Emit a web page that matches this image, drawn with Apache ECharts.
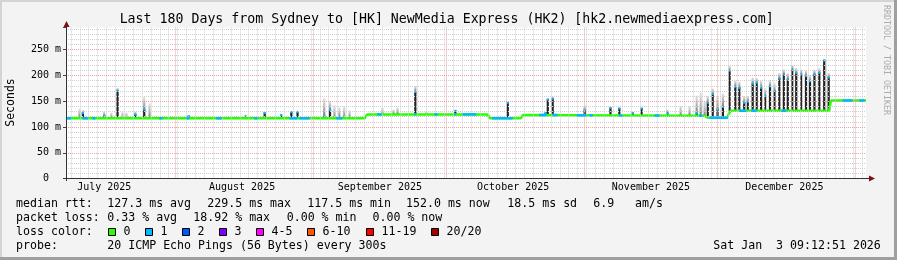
<!DOCTYPE html>
<html><head><meta charset="utf-8">
<script src="https://cdn.jsdelivr.net/npm/echarts@6/dist/echarts.min.js"></script>
<style>html,body{margin:0;padding:0;background:#f3f3f3}#c{width:897px;height:260px}</style>
</head><body><div id="c"></div>
<script>
// ---------------- data (days since Jul 7 2025 09:12:51, values in ms) ----------------
const monthNames = ['July 2025','August 2025','September 2025','October 2025','November 2025','December 2025'];
const monthMid   = [8.616, 39.616, 70.616, 100.616, 131.616, 161.616];
const monthStart = [24.616, 55.616, 85.616, 116.616, 146.616, 177.616];
const yTicks     = [0, 50, 100, 150, 200, 250];

// median rtt line (breakpoints)
const medDays = [0, 67.2, 67.8, 94.8, 95.4, 102.3, 102.9, 125, 143.6, 144.4, 148.7, 149.5, 171.7, 172.1, 180];
const medVals = [117, 117, 124.5, 124.5, 117, 117, 123.5, 122.5, 122, 118, 118, 131.5, 131.5, 151.5, 151.5];

// spans where loss = 1/20 (blue)
const lossOneSpans = [[0.1,1.2],[3.7,5.0],[5.9,6.6],[21.0,21.7],[27.1,27.8],[33.8,35.0],[42.4,43.1],[50.3,52.1],
  [52.5,54.8],[60.8,62.2],[70.0,71.0],[78.4,78.8],[82.9,83.6],[87.4,87.8],[89.2,92.3],[95.9,100.5],[106.5,108.1],
  [109.5,110.6],[114.9,117.1],[117.8,118.5],[124.5,125.2],[132.4,133.5],[142.5,143.2],[144.8,148.8],[151.5,153.1],
  [154.2,155.4],[161.0,162.1],[174.7,177.0],[178.5,179.7]];

// smoke spikes: day, dark top (0 = none), light smoke max (0 = none)
const spikeDays = [3.0,3.8,8.6,10.2,11.6,12.7,13.6,15.6,17.6,18.8,27.6,40.4,44.7,48.4,50.7,52.1,
  58.1,59.4,60.4,61.5,62.6,63.8,71.2,73.7,74.6,78.6,81.1,87.6,99.4,107.9,108.4,109.5,
  116.7,122.5,124.5,127.5,129.5,135.3,138.3,140.3,141.9,142.8,143.7,
  144.4,145.5,146.6,147.8,149.3,150.6,151.5,152.6,153.4,154.5,155.4,156.4,157.3,158.4,159.4,
  160.5,161.5,162.4,163.4,164.3,165.4,166.5,167.4,168.4,169.5,170.6,171.6];
const spikeTops = [0,128,122,0,171,0,0,125,135,0,122,121,128,124,130,130,
  122,134,0,0,0,0,0,0,0,169,0,132,148,128,154,156,
  133,138,137,128,137,128,0,0,128,0,0,
  148,165,135,140,210,179,177,148,150,185,187,177,161,180,171,
  195,203,193,213,206,203,200,190,203,206,230,197];
const spikeMax  = [135,133,130,128,176,129,128,130,158,146,0,124,0,0,0,0,
  156,150,142,138,140,132,137,134,138,180,130,134,0,0,156,158,
  142,0,0,0,0,134,141,140,161,167,150,
  160,175,160,165,219,190,188,160,160,196,195,190,175,190,185,
  205,212,205,220,215,212,210,200,212,214,232,205];

// loss colour legend
const lossLabels = ['0','1','2','3','4-5','6-10','11-19','20/20'];
const lossColors = ['#26ff00','#00b8ff','#0059ff','#7e00ff','#ff00ff','#ff5500','#ff0000','#a10000'];

// ---------------- helpers ----------------
function medianAt(d){
  for (let i = 1; i < medDays.length; i++) {
    if (d <= medDays[i]) {
      const t = (d - medDays[i-1]) / (medDays[i] - medDays[i-1]);
      return medVals[i-1] + t * (medVals[i] - medVals[i-1]);
    }
  }
  return medVals[medVals.length-1];
}
const MONO = '"DejaVu Sans Mono", monospace';
const F = (s) => s + 'px ' + MONO;
const Y_MAX = 293;

const minorV = []; for (let d = 1.1; d < 180; d += 2) minorV.push({xAxis: d});
const minorH = []; for (let v = 10; v <= 290; v += 10) if (v % 50) minorH.push({yAxis: v});
const majorLines = monthStart.map(v => ({xAxis: v})).concat(yTicks.filter(v => v > 0).map(v => ({yAxis: v})));

function renderSpike(params, api){
  const d = api.value(0), base = api.value(1), top = api.value(2), mx = api.value(3);
  const x = api.coord([d, 0])[0];
  const w = api.size([0.5, 0])[0];
  const yb = api.coord([d, base])[1];
  const children = [];
  const lo = Math.max(top, base);
  if (mx > lo) {
    const yFrom = api.coord([d, lo])[1];
    const ym = api.coord([d, mx])[1];
    children.push({type:'rect', shape:{x:x-w/2, y:ym, width:w, height:yFrom-ym},
      style:{fill:new echarts.graphic.LinearGradient(0,0,0,1,[{offset:0,color:'rgba(200,200,200,0.5)'},{offset:1,color:'rgba(110,110,110,0.9)'}])}});
  }
  if (top > base) {
    const yt = api.coord([d, top])[1];
    children.push({type:'rect', shape:{x:x-w/2, y:yt, width:w, height:yb-yt}, style:{fill:'#242424'}});
    children.push({type:'rect', shape:{x:x-w/2, y:yt-0.5, width:w, height:2}, style:{fill:'#00b8ff'}});
  }
  return {type:'group', children};
}

// blue (loss 1) overlay on the median line
function renderLossSpan(params, api){
  const a = api.value(0), b = api.value(1);
  const pts = [api.coord([a, medianAt(a)])];
  medDays.forEach((d, i) => { if (d > a && d < b) pts.push(api.coord([d, medVals[i]])); });
  pts.push(api.coord([b, medianAt(b)]));
  return {type:'polyline', shape:{points:pts}, style:{stroke:lossColors[1], lineWidth:2.5, fill:null}};
}

const legendTexts = [
  ['median rtt:',16,204.3],['127.3 ms avg',107.3,204.3],['229.5 ms max',207.3,204.3],['117.5 ms min',307.3,204.3],
  ['152.0 ms now',406,204.3],['18.5 ms sd',507.3,204.3],['6.9',593.3,204.3],['am/s',635,204.3],
  ['packet loss:',16,218.3],['0.33 % avg',107.3,218.3],['18.92 % max',193.3,218.3],['0.00 % min',286.7,218.3],['0.00 % now',372.5,218.3],
  ['loss color:',16,232.2],
  ['probe:',16,246],['20 ICMP Echo Pings (56 Bytes) every 300s',107.3,246],['Sat Jan  3 09:12:51 2026',713.3,246]
];
const boxX = [108.5,145.5,182.5,219.5,256.5,307.5,366.5,431.5];

const graphic = [];
// frame
graphic.push({type:'rect', shape:{x:0,y:0,width:897,height:2}, style:{fill:'#d4d4d4'}, silent:true});
graphic.push({type:'rect', shape:{x:0,y:0,width:2,height:260}, style:{fill:'#d4d4d4'}, silent:true});
graphic.push({type:'rect', shape:{x:894,y:0,width:3,height:260}, style:{fill:'#9f9f9f'}, silent:true});
graphic.push({type:'rect', shape:{x:0,y:257,width:897,height:3}, style:{fill:'#9f9f9f'}, silent:true});
// title
graphic.push({type:'text', x:446.7, y:19.3, silent:true, style:{text:'Last 180 Days from Sydney to [HK] NewMedia Express (HK2) [hk2.newmediaexpress.com]', font:F(13.25), fill:'#000', align:'center', verticalAlign:'middle'}});
// y title
graphic.push({type:'text', x:11, y:102.5, rotation:Math.PI/2, silent:true, style:{text:'Seconds', font:F(11.5), fill:'#000', align:'center', verticalAlign:'middle'}});
// watermark
graphic.push({type:'text', x:886, y:60, rotation:-Math.PI/2, silent:true, style:{text:'RRDTOOL / TOBI OETIKER', font:F(8.3), fill:'#ababab', align:'center', verticalAlign:'middle'}});
// axes lines + arrows
graphic.push({type:'line', shape:{x1:66.5,y1:181,x2:66.5,y2:25}, style:{stroke:'#333', lineWidth:1}, silent:true, z:50});
graphic.push({type:'line', shape:{x1:63,y1:178.5,x2:869,y2:178.5}, style:{stroke:'#333', lineWidth:1}, silent:true, z:50});
graphic.push({type:'polygon', shape:{points:[[66.5,21],[63.5,27],[69.5,27]]}, style:{fill:'#7f1010'}, silent:true, z:51});
graphic.push({type:'polygon', shape:{points:[[875,178.5],[869,175.5],[869,181.5]]}, style:{fill:'#7f1010'}, silent:true, z:51});
// legend
legendTexts.forEach(t => graphic.push({type:'text', x:t[1], y:t[2], silent:true, style:{text:t[0], font:F(11.6), fill:'#000', align:'left', verticalAlign:'middle'}}));
lossLabels.forEach((l, i) => {
  graphic.push({type:'rect', shape:{x:boxX[i], y:228.5, width:7, height:7}, style:{fill:lossColors[i], stroke:'#000', lineWidth:1}, silent:true});
  graphic.push({type:'text', x:boxX[i]+15, y:232.2, silent:true, style:{text:l, font:F(11.6), fill:'#000', align:'left', verticalAlign:'middle'}});
});

const chart = echarts.init(document.getElementById('c'), null, {renderer:'canvas', width:897, height:260});
chart.setOption({
  animation:false,
  backgroundColor:'#f3f3f3',
  grid:{left:66, top:178.5 - Y_MAX * 0.515, width:800, height:Y_MAX * 0.515, show:true, backgroundColor:'#ffffff', borderWidth:0},
  xAxis:{type:'value', min:0, max:180,
    axisLine:{show:false}, splitLine:{show:false},
    axisTick:{show:false},
    axisLabel:{customValues:monthMid, margin:4, fontFamily:MONO, fontSize:10, color:'#000',
      formatter:(v) => { const i = monthMid.indexOf(v); return i >= 0 ? monthNames[i] : ''; }}},
  yAxis:{type:'value', min:0, max:Y_MAX, interval:50,
    axisLine:{show:false}, splitLine:{show:false},
    axisTick:{show:true, length:3, lineStyle:{color:'#444'}},
    axisLabel:{margin:5, fontFamily:MONO, fontSize:10, color:'#000',
      formatter:(v) => v > 260 ? '' : (v === 0 ? '0  ' : v + ' m')}},
  series:[
    {type:'line', data:[], silent:true, z:1,
      markLine:{silent:true, symbol:['none','none'], label:{show:false}, animation:false,
        lineStyle:{color:'#cfcfcf', type:'dotted', width:1}, emphasis:{disabled:true},
        data:minorV.concat(minorH)}},
    {type:'line', data:[], silent:true, z:1,
      markLine:{silent:true, symbol:['none','none'], label:{show:false}, animation:false,
        lineStyle:{color:'#eda0a0', type:'dotted', width:1}, emphasis:{disabled:true},
        data:majorLines}},
    {type:'custom', silent:true, z:3, renderItem:renderSpike, encode:{x:0, y:[1,2,3]},
      data:spikeDays.map((d, i) => [d, medianAt(d), spikeTops[i], spikeMax[i]])},
    {type:'line', silent:true, z:4, showSymbol:false, symbol:'none',
      lineStyle:{width:2.5, color:lossColors[0]}, data:medDays.map((d, i) => [d, medVals[i]])},
    {type:'custom', silent:true, z:5, renderItem:renderLossSpan, encode:{x:[0,1]},
      data:lossOneSpans}
  ],
  graphic:graphic
});
</script></body></html>
